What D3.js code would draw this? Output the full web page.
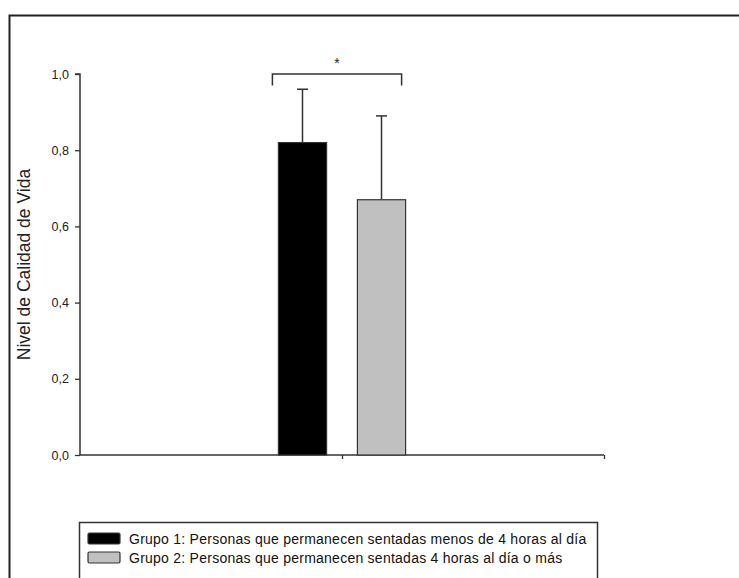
<!DOCTYPE html>
<html><head><meta charset="utf-8">
<script src="https://cdn.jsdelivr.net/npm/d3@7"></script>
<style>body{margin:0;background:#fff}svg{display:block}</style>
</head><body>
<svg id="c" width="739" height="578"></svg>
<script>
const groups = ["Grupo 1", "Grupo 2"];
const means = [0.82, 0.67];
const errors = [0.14, 0.22];
const colors = ["#000000", "#c0c0c0"];
const legendLabels = [
  "Grupo 1: Personas que permanecen sentadas menos de 4 horas al día",
  "Grupo 2: Personas que permanecen sentadas 4 horas al día o más"
];
const yTicks = [0, 0.2, 0.4, 0.6, 0.8, 1.0];
const yTitle = "Nivel de Calidad de Vida";
const sigLabel = "*";

const svg = d3.select("#c");
const font = "Liberation Sans, Arial, sans-serif";

// outer frame
svg.append("path").attr("d", "M9.5,578 V15.5 H739").attr("fill", "none")
  .attr("stroke", "#222").attr("stroke-width", 2);

const x0 = 80, x1 = 604, yTop = 74, yBot = 455;
const y = d3.scaleLinear().domain([0, 1]).range([yBot, yTop]);
const x = d3.scaleBand().domain(groups).range([271, 413]).paddingInner(0.39).paddingOuter(0.0937);

// y axis
const yAxis = d3.axisLeft(y).tickValues(yTicks).tickSize(5).tickPadding(6)
  .tickFormat(d => d3.format(".1f")(d).replace(".", ","));
const ga = svg.append("g").attr("transform", `translate(${x0},0)`).call(yAxis);
ga.select(".domain").attr("d", `M-5,${yTop}H0V${yBot}`).attr("stroke", "#333").attr("stroke-width", 1.5);
ga.selectAll(".tick line").attr("stroke", "#333").attr("stroke-width", 1.3);
ga.selectAll(".tick text").attr("font-family", font).attr("font-size", 12.5).attr("fill", "#222");

// x axis
const xs = d3.scaleLinear().domain([0, 2]).range([x0, x1]);
const gx = svg.append("g").attr("transform", `translate(0,${yBot})`)
  .call(d3.axisBottom(xs).tickValues([1, 2]).tickSize(4).tickFormat(""));
gx.select(".domain").attr("d", `M${x0},0H${x1}`).attr("stroke", "#333").attr("stroke-width", 1.5);
gx.selectAll(".tick line").attr("stroke", "#333").attr("stroke-width", 1.3);

// y title
svg.append("text").attr("transform", `translate(30,${(yTop + yBot) / 2}) rotate(-90)`)
  .attr("text-anchor", "middle").attr("font-family", font).attr("font-size", 17.5)
  .attr("fill", "#222").text(yTitle);

// error bars (behind bars)
groups.forEach((g, i) => {
  const cx = x(g) + x.bandwidth() / 2;
  svg.append("line").attr("x1", cx).attr("x2", cx).attr("y1", y(means[i])).attr("y2", y(means[i] + errors[i]))
    .attr("stroke", "#333").attr("stroke-width", 1.5);
  svg.append("line").attr("x1", cx - 5.5).attr("x2", cx + 5.5).attr("y1", y(means[i] + errors[i])).attr("y2", y(means[i] + errors[i]))
    .attr("stroke", "#333").attr("stroke-width", 1.5);
});

// bars
svg.selectAll("rect.bar").data(groups).enter().append("rect").attr("class", "bar")
  .attr("x", d => x(d)).attr("width", x.bandwidth())
  .attr("y", (d, i) => y(means[i])).attr("height", (d, i) => yBot - y(means[i]))
  .attr("fill", (d, i) => colors[i]).attr("stroke", "#333").attr("stroke-width", 1.2);

// significance bracket
const bx0 = x(groups[0]) - 6, bx1 = x(groups[1]) + x.bandwidth() - 4;
const by = y(1.0), byl = y(0.97);
svg.append("path").attr("d", `M${bx0},${byl}V${by}H${bx1}V${byl}`).attr("fill", "none")
  .attr("stroke", "#333").attr("stroke-width", 1.5);
svg.append("text").attr("x", (bx0 + bx1) / 2).attr("y", by - 6).attr("text-anchor", "middle")
  .attr("font-family", font).attr("font-size", 14).attr("fill", "#222").text(sigLabel);

// legend
svg.append("path").attr("d", "M79.5,578V522.5H597.5V578").attr("fill", "none")
  .attr("stroke", "#333").attr("stroke-width", 1.5);
legendLabels.forEach((l, i) => {
  const ly = 533 + i * 19;
  svg.append("rect").attr("x", 88).attr("y", ly).attr("width", 32).attr("height", 11)
    .attr("rx", 1.5).attr("fill", colors[i]).attr("stroke", "#333").attr("stroke-width", 1.2);
  svg.append("text").attr("x", 129).attr("y", ly + 10.5).attr("font-family", font)
    .attr("font-size", 14).attr("letter-spacing", 0.25).attr("fill", "#111").text(l);
});
</script>
</body></html>
